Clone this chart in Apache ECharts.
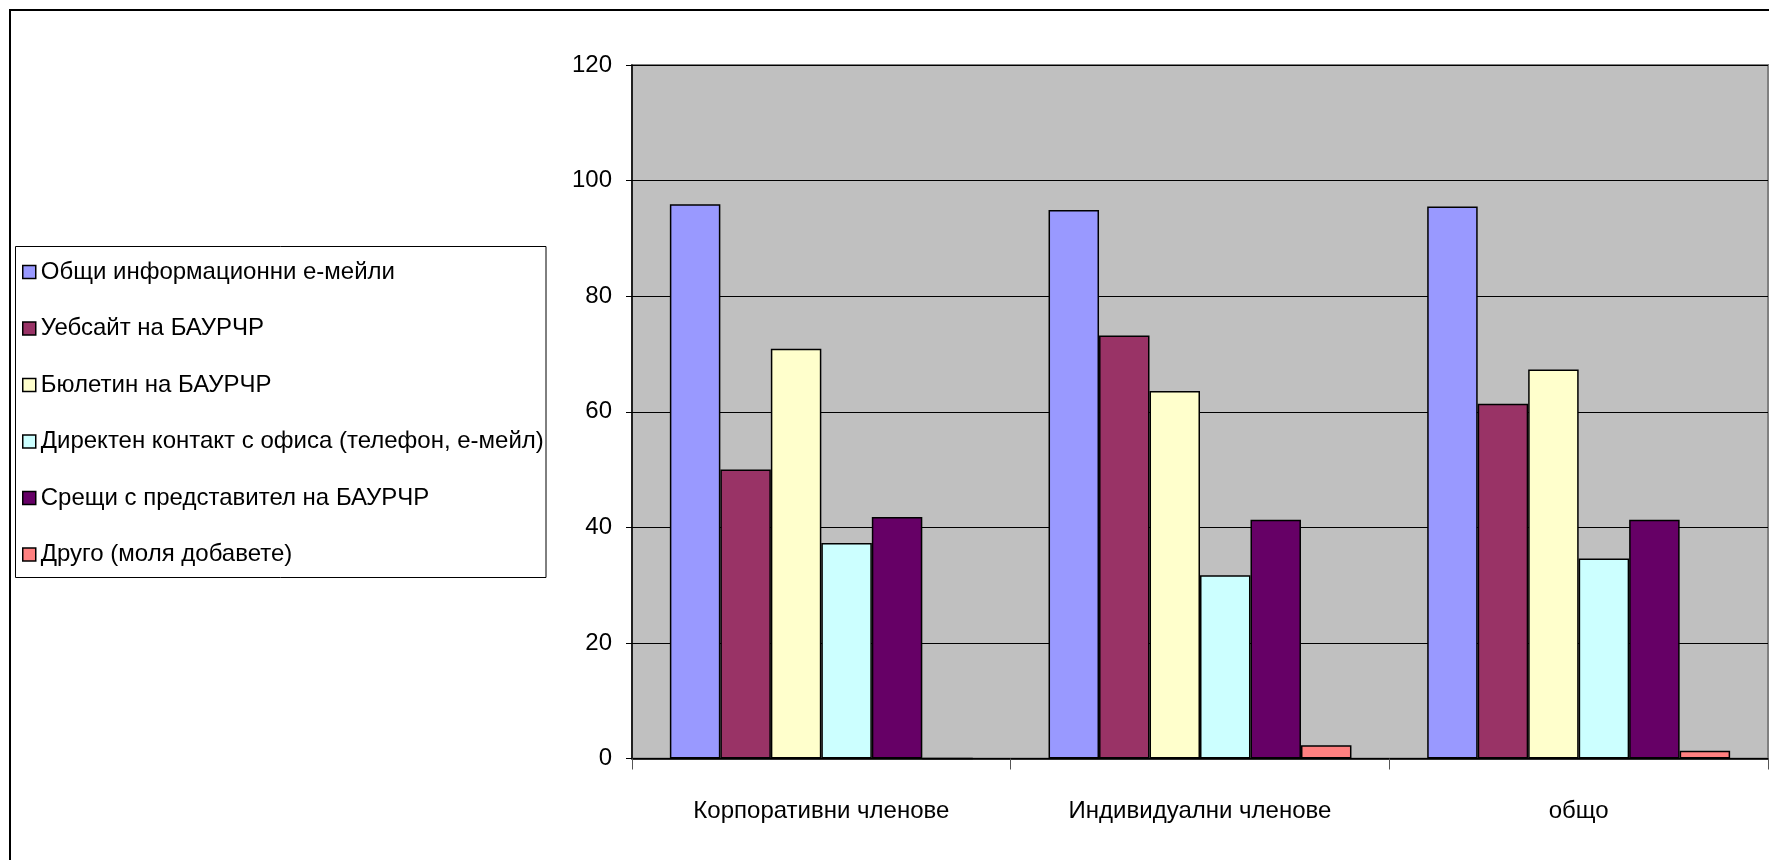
<!DOCTYPE html>
<html>
<head>
<meta charset="utf-8">
<script src="https://cdn.jsdelivr.net/npm/echarts@6/dist/echarts.min.js"></script>
<style>
html,body{margin:0;padding:0;background:#fff;}
#chart{width:1769px;height:860px;}
</style>
</head>
<body>
<div id="chart"></div>
<script>
const categories = ['Корпоративни членове', 'Индивидуални членове', 'общо'];
const seriesNames = [
  'Общи информационни е-мейли',
  'Уебсайт на БАУРЧР',
  'Бюлетин на БАУРЧР',
  'Директен контакт с офиса (телефон, е-мейл)',
  'Срещи с представител на БАУРЧР',
  'Друго (моля добавете)'
];
const emails = [95.9, 94.9, 95.5];
const website = [50.0, 73.2, 61.4];
const bulletin = [70.9, 63.6, 67.3];
const directContact = [37.3, 31.7, 34.6];
const meetings = [41.8, 41.3, 41.3];
const other = [0, 2.3, 1.35];
const yTicks = [0, 20, 40, 60, 80, 100, 120];

const seriesData = [emails, website, bulletin, directContact, meetings, other];
const colors = ['#9999FF', '#993366', '#FFFFCC', '#CCFFFF', '#660066', '#FF8080'];
const FONT = "'Liberation Sans', Arial, sans-serif";

const chart = echarts.init(document.getElementById('chart'));
chart.setOption({
  animation: false,
  backgroundColor: '#ffffff',
  textStyle: { fontFamily: FONT },
  graphic: [
    { type: 'rect', z: -10, shape: { x: 10, y: 10, width: 1800, height: 900 },
      style: { fill: 'none', stroke: '#000', lineWidth: 2 } },
    { type: 'rect', z: -10, shape: { x: 15.5, y: 246.5, width: 530.5, height: 331 },
      style: { fill: 'none', stroke: '#000', lineWidth: 1 } }
  ],
  legend: {
    orient: 'vertical',
    left: 22,
    top: 259,
    padding: 0,
    itemGap: 30.5,
    itemWidth: 13,
    itemHeight: 13,
    icon: 'rect',
    itemStyle: { borderColor: '#000', borderWidth: 1.5 },
    textStyle: { fontFamily: FONT, fontSize: 24, lineHeight: 26, color: '#000' },
    data: seriesNames
  },
  grid: {
    left: 632,
    top: 65,
    right: 1,
    bottom: 101.5,
    show: true,
    backgroundColor: '#C0C0C0',
    borderColor: '#808080',
    borderWidth: 2
  },
  xAxis: {
    type: 'category',
    data: categories,
    axisLine: { lineStyle: { color: '#000', width: 1.5 } },
    axisTick: { show: true, length: 11, lineStyle: { color: '#555' } },
    axisLabel: { interval: 0, fontFamily: FONT, fontSize: 24, color: '#000', margin: 41 }
  },
  yAxis: {
    type: 'value',
    min: 0,
    max: 120,
    interval: 20,
    axisLine: { show: true, lineStyle: { color: '#000', width: 1.5 } },
    axisTick: { show: true, length: 6, lineStyle: { color: '#000' } },
    axisLabel: {
      fontFamily: FONT, fontSize: 24, color: '#000', margin: 20,
      formatter: v => yTicks.includes(v) ? String(v) : ''
    },
    splitLine: { show: true, lineStyle: { color: '#000', width: 1 } }
  },
  series: seriesNames.map((name, i) => ({
    name: name,
    type: 'bar',
    data: seriesData[i],
    barGap: '0%',
    barCategoryGap: '20%',
    itemStyle: { color: colors[i], borderColor: '#000', borderWidth: 1.5 }
  }))
});
</script>
</body>
</html>
